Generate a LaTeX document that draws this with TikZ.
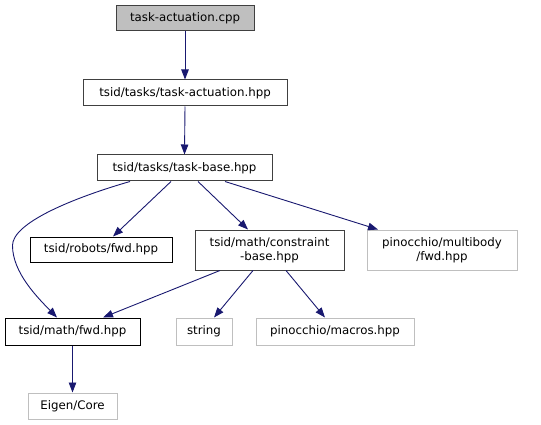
\documentclass[tikz,border=0pt]{standalone}
\usepackage{fontspec}
\setmainfont{DejaVu Sans}
\usetikzlibrary{arrows.meta,calc}
\definecolor{edgeblue}{HTML}{191970}
\definecolor{greyfill}{HTML}{BFBFBF}
\definecolor{greyline}{HTML}{BFBFBF}
\definecolor{darkline}{HTML}{404040}
\begin{document}
\begin{tikzpicture}[x=1pt,y=-1pt,
  every node/.style={font=\fontsize{11.8}{14}\selectfont, inner sep=0pt, align=center},
  docbox/.style={draw=black, line width=1pt, fill=white},
  darkbox/.style={draw=darkline, line width=1pt, fill=white},
  rootbox/.style={draw=darkline, line width=1pt, fill=greyfill},
  extbox/.style={draw=greyline, line width=1pt, fill=white},
  edge/.style={draw=edgeblue, line width=0.9pt, -{Triangle[length=10pt,width=7.5pt]}}]
\useasboundingbox (0,0) rectangle (541,425);
\node[rootbox, minimum width=138pt, minimum height=25pt] (cpp) at (185,18.5) {task-actuation.cpp};
\node[darkbox, minimum width=204pt, minimum height=26pt] (act) at (185,93) {tsid/tasks/task-actuation.hpp};
\node[darkbox, minimum width=175pt, minimum height=26pt] (base) at (184.5,168) {tsid/tasks/task-base.hpp};
\node[docbox, minimum width=142pt, minimum height=25pt] (robots) at (101,249.5) {tsid/robots/fwd.hpp};
\node[darkbox, minimum width=149pt, minimum height=40pt] (cons) at (269.5,250) {tsid/math/constraint\\-base.hpp};
\node[extbox, minimum width=150pt, minimum height=40pt] (pinmb) at (442,250) {pinocchio/multibody\\/fwd.hpp};
\node[docbox, minimum width=135pt, minimum height=27pt] (mfwd) at (72.5,331.5) {tsid/math/fwd.hpp};
\node[extbox, minimum width=56pt, minimum height=27pt] (str) at (204,331.5) {string};
\node[extbox, minimum width=158pt, minimum height=27pt] (macros) at (335,331.5) {pinocchio/macros.hpp};
\node[extbox, minimum width=89pt, minimum height=26pt] (eigen) at (72.5,406) {Eigen/Core};

\draw[edge] (cpp.south) -- (act.north);
\draw[edge] (act.south) -- (base.north);
\draw[edge] ([xshift=-54.5pt]base.south) .. controls ($(base.south)+(-110,16)$) and ($(mfwd.north)+(-60,-95)$) .. ($(mfwd.north)+(-60,-72)$) .. controls ($(mfwd.north)+(-60,-45)$) and ($(mfwd.north)+(-35,-20)$) .. ([xshift=-15.5pt]mfwd.north);
\draw[edge] ([xshift=-13.5pt]base.south) -- ([xshift=12pt]robots.north);
\draw[edge] ([xshift=13.5pt]base.south) -- ([xshift=-21.5pt]cons.north);
\draw[edge] ([xshift=40.5pt]base.south) -- ([xshift=-64pt]pinmb.north);
\draw[edge] ([xshift=-49.5pt]cons.south) -- ([xshift=30.5pt]mfwd.north);
\draw[edge] ([xshift=-16.5pt]cons.south) -- ([xshift=10pt]str.north);
\draw[edge] ([xshift=16.5pt]cons.south) -- ([xshift=-10pt]macros.north);
\draw[edge] (mfwd.south) -- (eigen.north);
\end{tikzpicture}
\end{document}
